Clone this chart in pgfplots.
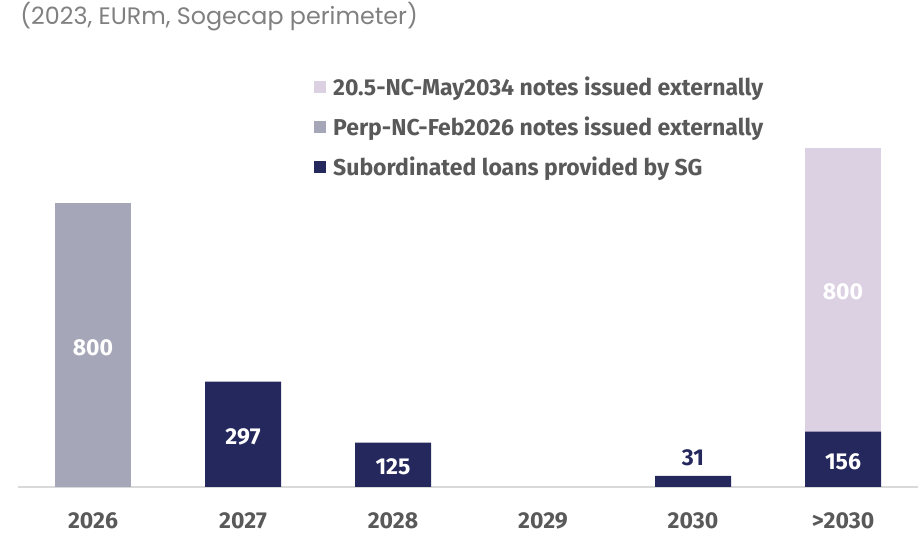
\documentclass[border=0pt]{standalone}
\usepackage{pgfplots}
\pgfplotsset{compat=1.18}
\usepackage{fontspec}
\setmainfont{Fira Sans}
\newfontfamily\titlefont{Poppins}
\definecolor{navy}{HTML}{24285C}
\definecolor{perpgray}{HTML}{A5A7B9}
\definecolor{lav}{HTML}{DCD1E3}
\definecolor{txtgray}{HTML}{595959}
\definecolor{titlegray}{HTML}{808080}
\definecolor{axgray}{HTML}{D9D9D9}
\newcommand\lblfont{\bfseries\fontsize{11.5}{13}\selectfont}
\pgfplotsset{
  sqlegend/.style={legend image code/.code={\fill[##1] (0pt,-3pt) rectangle (6pt,3pt); \path (7.5pt,0pt);}},
}
\tikzset{vlabel/.style={font=\lblfont, text=white, inner sep=0pt}}
\begin{document}
\begin{tikzpicture}[x=1pt,y=1pt]
\useasboundingbox (0,0) rectangle (461,268);
\node[anchor=west, font=\titlefont\fontsize{11.9}{13}\selectfont, text=titlegray, inner sep=0pt] at (10,259.5) {(2023, EURm, Sogecap perimeter)};
\begin{axis}[
  at={(9pt,24.5pt)}, anchor=south west,
  width=450pt, height=230.75pt, scale only axis,
  xmin=-0.5, xmax=5.5, ymin=0, ymax=1300,
  ybar stacked, bar width=38pt,
  axis x line*=bottom, axis y line=none,
  x axis line style={axgray, line width=1pt},
  xtick={0,1,2,3,4,5}, xticklabels={2026,2027,2028,2029,2030,>2030},
  major tick length=0pt,
  xticklabel style={font=\lblfont, text=txtgray, anchor=base, yshift=-21pt},
  clip=false,
  legend reversed,
  legend cell align=left,
  legend style={at={(0.322,0.908)}, anchor=north west, draw=none, fill=none,
    font=\lblfont, text=txtgray, row sep=5.2pt},
]
\addplot[draw=none, fill=navy, sqlegend]
  coordinates {(0,0)(1,297)(2,125)(3,0)(4,31)(5,156)};
\addlegendentry{Subordinated loans provided by SG}
\addplot[draw=none, fill=perpgray, sqlegend]
  coordinates {(0,800)(1,0)(2,0)(3,0)(4,0)(5,0)};
\addlegendentry{Perp-NC-Feb2026 notes issued externally}
\addplot[draw=none, fill=lav, sqlegend]
  coordinates {(0,0)(1,0)(2,0)(3,0)(4,0)(5,800)};
\addlegendentry{20.5-NC-May2034 notes issued externally}
\coordinate (v1) at (axis cs:0,392);
\coordinate (v2) at (axis cs:1,141);
\coordinate (v3) at (axis cs:2,56);
\coordinate (v4) at (axis cs:4,82);
\coordinate (v5) at (axis cs:5,70);
\coordinate (v6) at (axis cs:5,549);
\end{axis}
\node[vlabel] at (v1) {800};
\node[vlabel] at (v2) {297};
\node[vlabel] at (v3) {125};
\node[vlabel, text=navy] at (v4) {31};
\node[vlabel] at (v5) {156};
\node[vlabel] at (v6) {800};
\end{tikzpicture}
\end{document}
